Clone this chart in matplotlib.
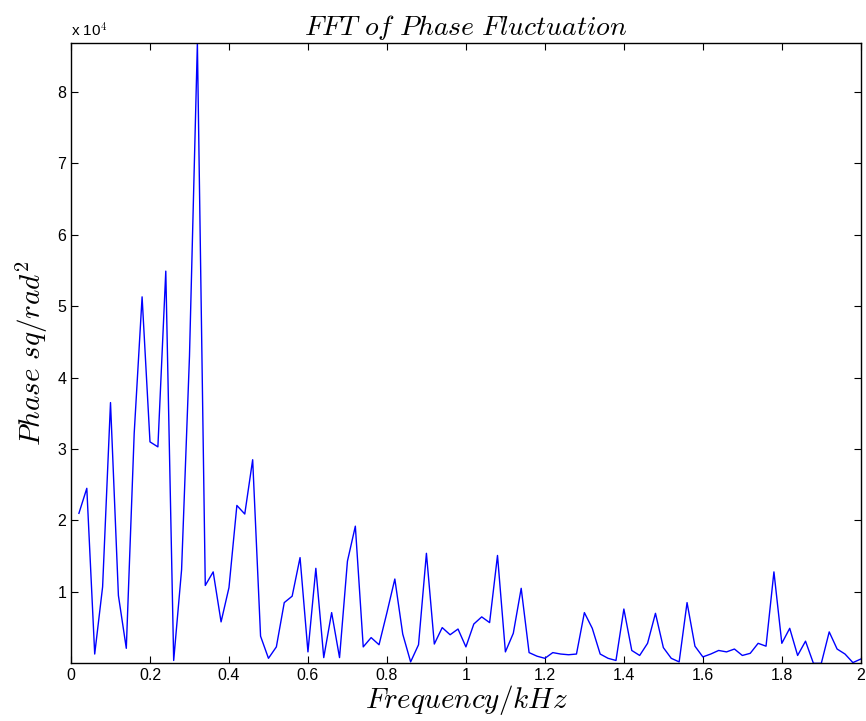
import numpy as np
import matplotlib
matplotlib.use("Agg")
import matplotlib.pyplot as plt
from matplotlib.ticker import FuncFormatter

# frequency in kHz, phase power in units of 1e4 rad^2
freq = np.round(np.arange(1, 101) * 0.02, 2)
phase = [2.10, 2.45, 0.13, 1.07, 3.65, 0.95, 0.21, 3.22, 5.13, 3.10,
         3.03, 5.49, 0.04, 1.31, 4.30, 8.68, 1.09, 1.28, 0.58, 1.06,
         2.21, 2.09, 2.85, 0.38, 0.07, 0.23, 0.85, 0.94, 1.48, 0.16,
         1.33, 0.08, 0.71, 0.08, 1.43, 1.92, 0.23, 0.36, 0.26, 0.71,
         1.18, 0.41, 0.02, 0.26, 1.54, 0.27, 0.50, 0.40, 0.48, 0.23,
         0.55, 0.65, 0.57, 1.51, 0.16, 0.42, 1.05, 0.15, 0.10, 0.07,
         0.15, 0.13, 0.12, 0.13, 0.71, 0.49, 0.13, 0.07, 0.04, 0.76,
         0.18, 0.11, 0.28, 0.70, 0.22, 0.07, 0.02, 0.85, 0.24, 0.09,
         0.13, 0.18, 0.16, 0.20, 0.11, 0.14, 0.28, 0.24, 1.28, 0.28,
         0.49, 0.11, 0.31, 0.00, 0.00, 0.44, 0.20, 0.13, 0.01, 0.06]
phase = np.array(phase) * 1e4

plt.rcParams['mathtext.fontset'] = 'cm'
plt.rcParams['font.family'] = ['Liberation Sans', 'DejaVu Sans']

fig = plt.figure(figsize=(8.66, 7.21), dpi=100)
ax = fig.add_axes([0.082, 0.080, 0.912, 0.860])
ax.plot(freq, phase, color='#0000ff', lw=1.0)

ax.set_xlim(0, 2)
ax.set_ylim(phase.min(), phase.max())
ax.set_xticks(np.arange(0, 2.01, 0.2))
ax.set_yticks(np.arange(1, 9) * 1e4)
ax.xaxis.set_major_formatter(FuncFormatter(lambda v, p: '%g' % round(v, 1)))
ax.yaxis.set_major_formatter(FuncFormatter(lambda v, p: '%g' % (v / 1e4)))
ax.tick_params(direction='in', top=True, right=True, labelsize=11.5, length=5, width=0.8)
for spine in ax.spines.values():
    spine.set_linewidth(1.0)

ax.text(0.0, 1.006, r'x 10$^{4}$', transform=ax.transAxes, fontsize=11, ha='left', va='bottom')
ax.set_title(r'$FFT\ of\ Phase\ Fluctuation$', fontsize=20, pad=6)
ax.set_xlabel(r'$Frequency/kHz$', fontsize=21, labelpad=0)
ax.set_ylabel(r'$Phase\ sq/rad^2$', fontsize=21, labelpad=5)

fig.savefig('out.png', dpi=100)
